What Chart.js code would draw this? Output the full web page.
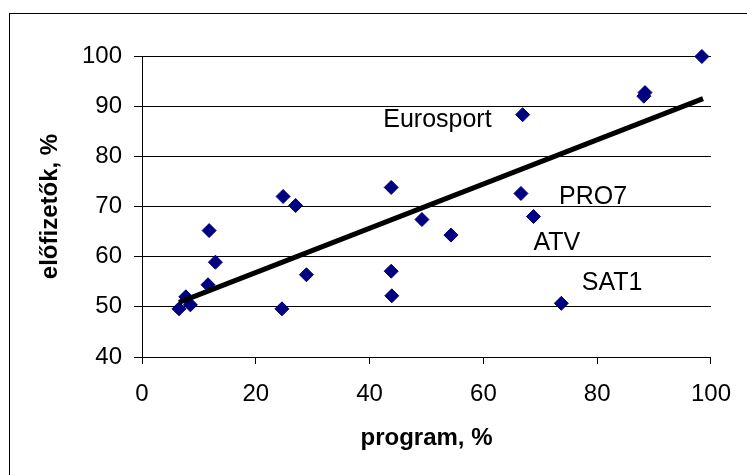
<!DOCTYPE html>
<html>
<head>
<meta charset="utf-8">
<script src="https://cdn.jsdelivr.net/npm/chart.js@4/dist/chart.umd.min.js"></script>
<style>
  html, body { margin: 0; padding: 0; background: #fff; overflow: hidden; }
  #wrap { width: 747px; height: 475px; position: relative; }
</style>
</head>
<body>
<div id="wrap"><canvas id="chart" width="747" height="475"></canvas></div>
<script>
// program share (x) and subscriber share (y), in %
const programX = [6.5, 7.7, 8.5, 11.6, 11.8, 12.9, 24.6, 24.8, 27.0, 28.9, 43.8, 43.8, 43.9, 49.2, 54.3, 66.6, 66.9, 68.8, 73.7, 88.2, 88.4, 98.4];
const subscribersY = [49.6, 52.0, 50.4, 54.4, 65.2, 58.9, 49.6, 72.0, 70.2, 56.4, 73.8, 57.1, 52.2, 67.4, 64.3, 72.6, 88.3, 68.0, 50.7, 92.0, 92.7, 99.9];

// linear trend line end points
const trendX = [6.5, 98.6];
const trendY = [50.9, 91.5];

// channel labels (left edge / baseline, in data units)
const labelNames = ['Eurosport', 'PRO7', 'ATV', 'SAT1'];
const labelX = [42.4, 73.3, 68.8, 77.3];
const labelY = [85.85, 70.55, 61.4, 53.4];

const xTicks = [0, 20, 40, 60, 80, 100];
const yTicks = [40, 50, 60, 70, 80, 90, 100];

const font = "'Liberation Sans', Arial, sans-serif";

const frame = {
    id: 'frame',
    beforeDraw(chart) {
        const ctx = chart.ctx;
        ctx.save();
        ctx.fillStyle = '#fff';
        ctx.fillRect(0, 0, chart.width, chart.height);
        ctx.strokeStyle = '#000';
        ctx.lineWidth = 1;
        ctx.strokeRect(9.5, 13.5, 800, 500);
        ctx.restore();
    }
};

const channelLabels = {
    id: 'channelLabels',
    afterDatasetsDraw(chart) {
        const ctx = chart.ctx;
        const xs = chart.scales.x;
        const ys = chart.scales.y;
        ctx.save();
        ctx.font = '25px ' + font;
        ctx.fillStyle = '#000';
        ctx.textAlign = 'left';
        ctx.textBaseline = 'alphabetic';
        labelNames.forEach(function(name, i) {
            ctx.fillText(name, xs.getPixelForValue(labelX[i]), ys.getPixelForValue(labelY[i]));
        });
        ctx.restore();
    }
};

new Chart(document.getElementById('chart'), {
    type: 'scatter',
    data: {
        datasets: [
            {
                type: 'line',
                label: 'trend',
                data: trendX.map((x, i) => ({ x: x, y: trendY[i] })),
                borderColor: '#000',
                borderWidth: 5,
                pointRadius: 0,
                fill: false,
                clip: false,
                order: 0
            },
            {
                label: 'csatornák',
                data: programX.map((x, i) => ({ x: x, y: subscribersY[i] })),
                pointStyle: 'rectRot',
                pointRadius: 7,
                backgroundColor: '#000080',
                borderColor: '#000080',
                borderWidth: 1,
                clip: false,
                order: 1
            }
        ]
    },
    options: {
        responsive: false,
        animation: false,
        layout: { padding: { left: 0, top: 56, right: 34, bottom: 0 } },
        plugins: {
            legend: { display: false },
            tooltip: { enabled: false }
        },
        scales: {
            x: {
                type: 'linear',
                min: 0,
                max: 100,
                afterBuildTicks: s => { s.ticks = xTicks.map(v => ({ value: v })); },
                afterFit: s => { s.height = 118; },
                grid: { drawOnChartArea: false, tickLength: 7, color: '#000' },
                border: { color: '#000', width: 1 },
                ticks: { color: '#000', padding: 16, maxRotation: 0, font: { family: font, size: 24 } },
                title: {
                    display: true,
                    text: 'program, %',
                    color: '#000',
                    font: { family: font, size: 24, weight: 'bold' },
                    padding: { top: 0, bottom: 22 }
                }
            },
            y: {
                type: 'linear',
                min: 40,
                max: 100,
                afterBuildTicks: s => { s.ticks = yTicks.map(v => ({ value: v })); },
                afterFit: s => { s.width = 142; },
                grid: { tickLength: 8, color: '#000', lineWidth: 1 },
                border: { color: '#000', width: 1 },
                ticks: { color: '#000', padding: 12, font: { family: font, size: 24 } },
                title: {
                    display: true,
                    text: 'előfizetők, %',
                    color: '#000',
                    font: { family: font, size: 24, weight: 'bold' },
                    padding: { top: 36, bottom: 0 }
                }
            }
        }
    },
    plugins: [frame, channelLabels]
});
</script>
</body>
</html>
